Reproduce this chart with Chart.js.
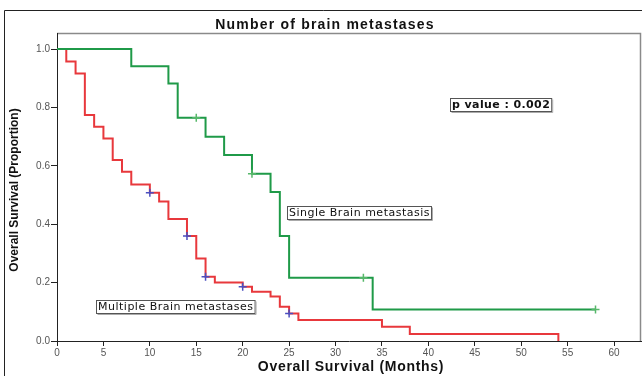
<!DOCTYPE html>
<html>
<head>
<meta charset="utf-8">
<script src="https://cdn.jsdelivr.net/npm/chart.js@4.4.0/dist/chart.umd.min.js"></script>
<style>
  html, body { margin: 0; padding: 0; background: #fff; overflow: hidden; }
  #wrap { width: 642px; height: 376px; position: relative; }
  canvas { display: block; }
</style>
</head>
<body>
<div id="wrap"><canvas id="c" width="642" height="376"></canvas></div>
<script>
// ---- data ----
const singleTimes = [0, 8, 12, 13, 16, 18, 21, 23, 24, 25, 34, 58];
const singleSurv  = [1.0, 0.941, 0.882, 0.765, 0.70, 0.637, 0.573, 0.51, 0.36, 0.217, 0.108, 0.108];
const singleCensorTimes = [15, 21, 33, 58];
const singleCensorSurv  = [0.765, 0.573, 0.217, 0.108];

const multiTimes = [0, 1, 2, 3, 4, 5, 6, 7, 8, 10, 11, 12, 14, 15, 16, 17, 20, 21, 23, 24, 25, 26, 35, 38, 54];
const multiSurv  = [1.0, 0.957, 0.916, 0.774, 0.734, 0.694, 0.62, 0.58, 0.536, 0.508, 0.478, 0.418, 0.36, 0.283, 0.22, 0.20, 0.186, 0.169, 0.152, 0.117, 0.094, 0.072, 0.049, 0.024, 0.0];
const multiCensorTimes = [10, 14, 16, 20, 25];
const multiCensorSurv  = [0.508, 0.36, 0.22, 0.186, 0.094];

const xTickLabels = [0, 5, 10, 15, 20, 25, 30, 35, 40, 45, 50, 55, 60];
const yTickLabels = [0.0, 0.2, 0.4, 0.6, 0.8, 1.0];

const chartTitle = 'Number of brain metastases';
const xTitle = 'Overall Survival (Months)';
const yTitle = 'Overall Survival (Proportion)';
const singleLabel = 'Single Brain metastasis';
const multiLabel = 'Multiple Brain metastases';
const pLabel = 'p value : 0.002';

const toPts = (xs, ys) => xs.map((x, i) => ({ x: x, y: ys[i] }));

const RED = '#e8383c';
const GREEN = '#1f9a48';

const decor = {
  id: 'decor',
  beforeDraw(chart) {
    const ctx = chart.ctx;
    const a = chart.chartArea;
    ctx.save();
    // outer frame
    ctx.strokeStyle = '#222';
    ctx.lineWidth = 1;
    ctx.beginPath();
    ctx.moveTo(4.5, 376);
    ctx.lineTo(4.5, 10.5);
    ctx.lineTo(642, 10.5);
    ctx.stroke();
    // plot frame top / right (gray)
    ctx.strokeStyle = '#8a8a8a';
    ctx.lineWidth = 1.5;
    ctx.beginPath();
    ctx.moveTo(a.left, a.top + 0.5);
    ctx.lineTo(a.right - 0.5, a.top + 0.5);
    ctx.lineTo(a.right - 0.5, a.bottom);
    ctx.stroke();
    ctx.restore();
  },
  afterDraw(chart) {
    const ctx = chart.ctx;
    ctx.save();
    ctx.fillStyle = '#111';
    ctx.textBaseline = 'middle';
    ctx.textAlign = 'center';
    // title
    ctx.font = 'bold 14px "Liberation Sans", Arial, sans-serif';
    ctx.letterSpacing = '1.2px';
    ctx.fillText(chartTitle, 325, 25);
    // x title
    ctx.font = 'bold 14px "Liberation Sans", Arial, sans-serif';
    ctx.letterSpacing = '0.7px';
    ctx.fillText(xTitle, 351, 367);
    // y title
    ctx.save();
    ctx.letterSpacing = '0px';
    ctx.translate(15, 190);
    ctx.rotate(-Math.PI / 2);
    ctx.font = 'bold 12px "Liberation Sans", Arial, sans-serif';
    ctx.fillText(yTitle, 0, 0);
    ctx.restore();

    // annotation boxes
    function box(text, x, y, bold) {
      ctx.font = (bold ? 'bold ' : '') + '11px "DejaVu Sans", Verdana, sans-serif';
      ctx.letterSpacing = bold ? '0.4px' : '0.5px';
      const w = ctx.measureText(text).width;
      const h = 13;
      ctx.fillStyle = '#fff';
      ctx.fillRect(x, y, w + 3, h);
      ctx.strokeStyle = '#555';
      ctx.lineWidth = 1;
      ctx.strokeRect(x + 0.5, y + 0.5, w + 3, h);
      ctx.strokeStyle = '#aaa';
      ctx.beginPath();
      ctx.moveTo(x + 1.5, y + h + 1.5);
      ctx.lineTo(x + w + 4.5, y + h + 1.5);
      ctx.lineTo(x + w + 4.5, y + 1.5);
      ctx.stroke();
      ctx.fillStyle = '#111';
      ctx.textAlign = 'left';
      ctx.textBaseline = 'middle';
      ctx.fillText(text, x + 2, y + h / 2 + 1);
    }
    box(pLabel, 450, 98, true);
    box(singleLabel, 287, 206, false);
    box(multiLabel, 96, 300, false);
    ctx.restore();
  }
};

new Chart(document.getElementById('c'), {
  type: 'scatter',
  data: {
    datasets: [
      {
        label: singleLabel,
        type: 'line',
        data: toPts(singleTimes, singleSurv),
        borderColor: GREEN,
        borderWidth: 2,
        stepped: true,
        pointRadius: 0,
        fill: false,
        order: 2
      },
      {
        label: multiLabel,
        type: 'line',
        data: toPts(multiTimes, multiSurv),
        borderColor: RED,
        borderWidth: 2,
        stepped: true,
        pointRadius: 0,
        fill: false,
        order: 2
      },
      {
        label: 'Single censored',
        data: toPts(singleCensorTimes, singleCensorSurv),
        pointStyle: 'cross',
        pointRadius: 4,
        borderColor: '#57b86a',
        borderWidth: 1.5,
        order: 1
      },
      {
        label: 'Multiple censored',
        data: toPts(multiCensorTimes, multiCensorSurv),
        pointStyle: 'cross',
        pointRadius: 4,
        borderColor: '#4a4fc0',
        borderWidth: 1.5,
        order: 1
      }
    ]
  },
  options: {
    responsive: false,
    animation: false,
    devicePixelRatio: 1,
    layout: { autoPadding: false, padding: { left: 0, top: 33, right: 1, bottom: 0 } },
    plugins: {
      legend: { display: false },
      title: { display: false },
      tooltip: { enabled: false }
    },
    scales: {
      x: {
        type: 'linear',
        min: 0,
        max: 62.9,
        afterFit(s) { s.height = 35; s.paddingLeft = 0; s.paddingRight = 0; },
        afterBuildTicks(s) { s.ticks = xTickLabels.map(v => ({ value: v })); },
        grid: { drawOnChartArea: false, drawTicks: true, tickLength: 5, color: '#222' },
        border: { color: '#222', width: 1 },
        ticks: {
          color: '#555',
          padding: 1,
          font: { family: '"Liberation Sans", Arial, sans-serif', size: 10 },
          maxRotation: 0,
          callback: v => String(v)
        }
      },
      y: {
        type: 'linear',
        min: 0,
        max: 1.055,
        afterFit(s) { s.width = 57; s.paddingTop = 0; s.paddingBottom = 0; },
        afterBuildTicks(s) { s.ticks = yTickLabels.map(v => ({ value: v })); },
        grid: { drawOnChartArea: false, drawTicks: true, tickLength: 6, color: '#222' },
        border: { color: '#222', width: 1 },
        ticks: {
          color: '#555',
          padding: 1,
          font: { family: '"Liberation Sans", Arial, sans-serif', size: 10 },
          callback: v => Number(v).toFixed(1)
        }
      }
    }
  },
  plugins: [decor]
});
</script>
</body>
</html>
